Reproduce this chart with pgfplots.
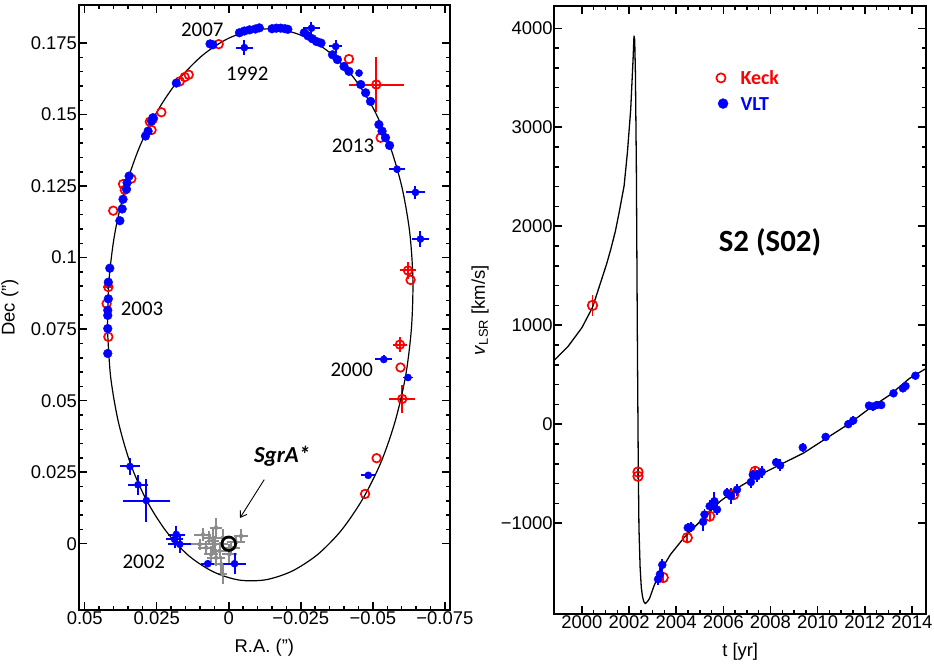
\documentclass[border=0pt]{standalone}
\usepackage{fontspec}
\setmainfont{Liberation Sans}
\newfontfamily\calibri{Carlito}
\usepackage{pgfplots}
\pgfplotsset{compat=1.18}
\usetikzlibrary{arrows.meta}
\definecolor{crossgray}{RGB}{140,140,140}

\pgfplotsset{
  panel/.style={
    scale only axis, anchor=south west,
    scaled ticks=false,
    axis line style={line width=2.2pt},
    major tick length=8pt, minor tick length=4.5pt,
    tick style={black, line width=1.5pt},
    tick label style={font=\fontsize{18.5}{18.5}\selectfont, inner sep=1.5pt},
  },
  errxy/.style={error bars/.cd, x dir=both, x explicit, y dir=both, y explicit,
    error mark=none, error bar style={line width=2pt}},
  erry/.style={error bars/.cd, y dir=both, y explicit,
    error mark=none, error bar style={line width=1.8pt}},
}

\begin{document}
\begin{tikzpicture}
\useasboundingbox (0,0) rectangle (938pt,-666pt);

% ---------------- left: orbit on the sky ----------------
\begin{axis}[panel, at={(79pt,-613pt)}, width=373pt, height=608pt,
  x dir=reverse, xmin=-0.0768, xmax=0.0521, ymin=-0.0233, ymax=0.1883,
  xtick={-0.075,-0.05,-0.025,0,0.025,0.05},
  xticklabels={−0.075,−0.05,−0.025,0,0.025,0.05},
  ytick={0,0.025,0.05,0.075,0.1,0.125,0.15,0.175},
  yticklabels={0,0.025,0.05,0.075,0.1,0.125,0.15,0.175},
  minor x tick num=4, minor y tick num=4,
  xlabel={R.A. (")}, ylabel={Dec (")},
  every axis x label/.style={at={(axis description cs:0.5,-0.0609)}, anchor=center,
    font=\fontsize{18.5}{18.5}\selectfont},
  every axis y label/.style={at={(axis description cs:-0.185,0.5)}, rotate=90, anchor=center,
    font=\fontsize{18.5}{18.5}\selectfont},
]
% reference stars near SgrA*
\addplot[only marks, mark=none, crossgray, errxy] coordinates {
  (0.0090,0.0032) +- (0.0030,0.0022)
  (0.0067,0.0021) +- (0.0025,0.0025)
  (0.0044,0.0056) +- (0.0020,0.0035)
  (0.0049,-0.0002) +- (0.0045,0.0030)
  (0.0032,-0.0025) +- (0.0025,0.0030)
  (0.0078,-0.0014) +- (0.0030,0.0025)
  (0.0021,0.0021) +- (0.0025,0.0030)
  (0.0026,-0.0072) +- (0.0025,0.0030)
  (0.0021,-0.0107) +- (0.0015,0.0035)
  (-0.0002,-0.0037) +- (0.0025,0.0035)
  (-0.0043,0.0027) +- (0.0025,0.0025)
  (0.0101,-0.0002) +- (0.0030,0.0020)
  (0.0044,-0.0049) +- (0.0030,0.0030)
  (-0.0008,-0.0014) +- (0.0030,0.0025)
  (0.0061,-0.0037) +- (0.0025,0.0030)
  (-0.0025,0.0005) +- (0.0030,0.0020)
  (0.0055,0.0010) +- (0.0020,0.0045)
};
\addplot[only marks, mark=o, mark size=6.8pt, mark options={line width=2.7pt}, black] coordinates {(0,0)};
% Keck
\addplot[only marks, mark=o, mark size=4.3pt, mark options={line width=1.7pt}, red] coordinates {
  (0.0035,0.1746) (0.0170,0.1616) (0.0153,0.1631) (0.0139,0.1639)
  (0.0274,0.1475) (0.0263,0.1485) (0.0268,0.1446) (0.0234,0.1508)
  (0.0338,0.1276) (0.0367,0.1257) (0.0361,0.1237) (0.0401,0.1164)
  (0.0424,0.0839) (0.0418,0.0723) (-0.0417,0.1694) (-0.0527,0.1419)
  (-0.0631,0.0922) (-0.0596,0.0616) (-0.0513,0.0299) (-0.0473,0.0174)
};
\addplot[only marks, mark=o, mark size=4.3pt, mark options={line width=1.7pt}, red, errxy] coordinates {
  (0.0418,0.0897) +- (0.0017,0.0008)
  (-0.0512,0.1605) +- (0.0095,0.0095)
  (-0.0622,0.0955) +- (0.0029,0.0029)
  (-0.0594,0.0696) +- (0.0025,0.0025)
  (-0.0602,0.0506) +- (0.0046,0.0050)
};
% VLT
\addplot[only marks, mark=*, mark size=4.4pt, blue] coordinates {
  (-0.0037,0.1786) (-0.0054,0.1792) (-0.0072,0.1796) (-0.0092,0.1799) (-0.0106,0.1803)
  (-0.0150,0.1800) (-0.0165,0.1802) (-0.0180,0.1802) (-0.0195,0.1800) (-0.0205,0.1798)
  (-0.0262,0.1786) (-0.0275,0.1775) (-0.0290,0.1765) (-0.0305,0.1755) (-0.0320,0.1750)
  (-0.0360,0.1709) (-0.0377,0.1692) (-0.0400,0.1668) (-0.0417,0.1651)
  (-0.0458,0.1605) (-0.0475,0.1576) (-0.0492,0.1546)
  (-0.0521,0.1465) (-0.0532,0.1442) (-0.0544,0.1419) (-0.0558,0.1392)
  (0.0065,0.1747) (0.0055,0.1744) (0.0182,0.1610)
  (0.0289,0.1425) (0.0280,0.1442) (0.0268,0.1477) (0.0263,0.1489)
  (0.0346,0.1285) (0.0353,0.1262) (0.0355,0.1239) (0.0367,0.1204) (0.0370,0.1170) (0.0378,0.1129)
  (0.0413,0.0963) (0.0418,0.0914) (0.0418,0.0856) (0.0420,0.0816) (0.0420,0.0798)
  (0.0420,0.0752) (0.0420,0.0665)
};
\addplot[only marks, mark=*, mark size=3.6pt, blue, errxy] coordinates {
  (-0.0054,0.1734) +- (0.0029,0.0025)
  (-0.0287,0.1802) +- (0.0029,0.0023)
  (-0.0371,0.1738) +- (0.0023,0.0023)
  (-0.0452,0.1645) +- (0.0012,0.0012)
  (-0.0584,0.1309) +- (0.0029,0.0012)
  (-0.0648,0.1228) +- (0.0032,0.0023)
  (-0.0665,0.1065) +- (0.0029,0.0029)
  (-0.0538,0.0644) +- (0.0029,0.0014)
  (-0.0622,0.0581) +- (0.0017,0.0012)
  (-0.0484,0.0239) +- (0.0025,0.0008)
  (0.0343,0.0270) +- (0.0035,0.0029)
  (0.0315,0.0206) +- (0.0035,0.0035)
  (0.0286,0.0151) +- (0.0081,0.0075)
  (0.0182,0.0032) +- (0.0029,0.0029)
  (0.0188,0.0015) +- (0.0029,0.0029)
  (0.0170,-0.0002) +- (0.0040,0.0029)
  (0.0073,-0.0070) +- (0.0023,0.0012)
  (-0.0020,-0.0070) +- (0.0040,0.0037)
};
% fitted orbit
\addplot[black, line width=1.2pt, smooth] coordinates {
  (0.0421,0.0748) (0.0416,0.0916) (0.0396,0.1082) (0.0360,0.1240) (0.0310,0.1386)
  (0.0246,0.1515) (0.0172,0.1624) (0.0090,0.1708) (0.0002,0.1766) (-0.0090,0.1796)
  (-0.0182,0.1797) (-0.0272,0.1768) (-0.0357,0.1711) (-0.0435,0.1627) (-0.0503,0.1519)
  (-0.0559,0.1391) (-0.0601,0.1246) (-0.0628,0.1088) (-0.0639,0.0922) (-0.0634,0.0754)
  (-0.0614,0.0588) (-0.0578,0.0430) (-0.0528,0.0284) (-0.0464,0.0155) (-0.0390,0.0046)
  (-0.0308,-0.0038) (-0.0219,-0.0096) (-0.0128,-0.0126) (-0.0036,-0.0127) (0.0054,-0.0098)
  (0.0140,-0.0041) (0.0217,0.0043) (0.0285,0.0151) (0.0341,0.0279) (0.0383,0.0425)
  (0.0410,0.0583) (0.0421,0.0748)
};
\begin{scope}[font=\calibri\fontsize{21}{21}\selectfont]
  \node at (axis cs:0.0092,0.1798) {2007};
  \node at (axis cs:-0.0064,0.1643) {1992};
  \node at (axis cs:-0.0431,0.1390) {2013};
  \node at (axis cs:0.0301,0.0821) {2003};
  \node at (axis cs:-0.0427,0.0607) {2000};
  \node at (axis cs:0.0295,-0.0063) {2002};
\end{scope}
\node[font=\calibri\bfseries\itshape\fontsize{23}{23}\selectfont] at (axis cs:-0.0185,0.0305) {SgrA*};
\draw[-{Straight Barb[length=6pt,width=8pt]}, line width=0.9pt]
  (axis cs:-0.0123,0.0224) -- (axis cs:-0.0039,0.0090);
\end{axis}

% ---------------- right: radial velocity ----------------
\begin{axis}[panel, at={(556.7pt,-617pt)}, width=373.3pt, height=611pt,
  xmin=1998.83, xmax=2014.6, ymin=-1921, ymax=4225,
  xtick={2000,2002,2004,2006,2008,2010,2012,2014},
  xticklabels={2000,2002,2004,2006,2008,2010,2012,2014},
  ytick={-1000,0,1000,2000,3000,4000},
  yticklabels={−1000,0,1000,2000,3000,4000},
  minor x tick num=3, minor y tick num=4,
  xlabel={t [yr]}, ylabel={\textit{v}\textsubscript{LSR} [km/s]},
  every axis x label/.style={at={(axis description cs:0.5,-0.0622)}, anchor=center,
    font=\fontsize{18.5}{18.5}\selectfont},
  every axis y label/.style={at={(axis description cs:-0.2,0.5)}, rotate=90, anchor=center,
    font=\fontsize{18.5}{18.5}\selectfont},
]
% Keck
\addplot[only marks, mark=o, mark size=4.8pt, mark options={line width=1.7pt}, red, erry] coordinates {
  (2000.45,1200) +- (0,110)
  (2002.38,-483) +- (0,30)
  (2002.38,-526) +- (0,30)
  (2003.45,-1549) +- (0,40)
  (2004.47,-1147) +- (0,50)
  (2005.42,-929) +- (0,40)
  (2006.44,-711) +- (0,40)
  (2007.35,-476) +- (0,40)
};
% VLT
\addplot[only marks, mark=*, mark size=4pt, blue, erry] coordinates {
  (2003.23,-1566) +- (0,60)
  (2003.31,-1516) +- (0,60)
  (2003.41,-1421) +- (0,60)
  (2004.49,-1046) +- (0,50)
  (2004.63,-1040) +- (0,50)
  (2005.14,-986) +- (0,90)
  (2005.20,-912) +- (0,60)
  (2005.42,-828) +- (0,60)
  (2005.62,-778) +- (0,90)
  (2005.73,-862) +- (0,60)
  (2006.16,-694) +- (0,50)
  (2006.32,-727) +- (0,80)
  (2006.58,-661) +- (0,60)
  (2007.17,-584) +- (0,60)
  (2007.25,-510) +- (0,50)
  (2007.42,-526) +- (0,60)
  (2007.63,-483) +- (0,60)
  (2008.24,-385) +- (0,40)
  (2008.41,-416) +- (0,60)
  (2009.37,-235) +- (0,50)
  (2010.34,-128) +- (0,40)
  (2011.30,0) +- (0,40)
  (2011.51,37) +- (0,50)
  (2012.18,188) +- (0,40)
  (2012.35,178) +- (0,40)
  (2012.52,194) +- (0,40)
  (2012.70,194) +- (0,40)
  (2013.22,312) +- (0,40)
  (2013.62,362) +- (0,40)
  (2013.73,385) +- (0,40)
  (2014.15,490) +- (0,40)
};
% orbit model
\addplot[black, line width=1.3pt] coordinates {
  (1998.83,647) (1999.40,782) (2000.00,975) (2000.45,1180) (2000.80,1436)
  (2001.05,1620) (2001.23,1771) (2001.42,1950) (2001.58,2140) (2001.79,2407)
  (2001.93,2743) (2002.07,3179) (2002.17,3682) (2002.21,3924) (2002.24,3880)
  (2002.27,3550) (2002.31,2609) (2002.35,983) (2002.37,295) (2002.39,-375)
  (2002.42,-1046) (2002.47,-1449) (2002.52,-1650) (2002.57,-1740) (2002.63,-1795)
  (2002.69,-1811) (2002.77,-1795) (2002.87,-1760) (2003.06,-1633) (2003.34,-1482)
  (2003.76,-1315) (2004.33,-1147) (2005.03,-979) (2005.87,-778) (2006.72,-627)
  (2007.56,-510) (2008.55,-392) (2009.40,-292) (2010.38,-141) (2011.37,10)
  (2012.21,161) (2013.06,295) (2013.90,463) (2014.60,563)
};
% key
\addplot[only marks, mark=o, mark size=4.6pt, mark options={line width=1.7pt}, red] coordinates {(2005.90,3498)};
\addplot[only marks, mark=*, mark size=5pt, blue] coordinates {(2005.99,3239)};
\node[anchor=west, inner sep=0pt, text=red, font=\calibri\bfseries\fontsize{20}{20}\selectfont] at (axis cs:2006.72,3498) {Keck};
\node[anchor=west, inner sep=0pt, text=blue, font=\calibri\bfseries\fontsize{20}{20}\selectfont] at (axis cs:2006.72,3239) {VLT};
\node[inner sep=0pt, font=\calibri\bfseries\fontsize{31}{31}\selectfont] at (axis cs:2007.98,1840) {S2 (S02)};
\end{axis}
\end{tikzpicture}
\end{document}
